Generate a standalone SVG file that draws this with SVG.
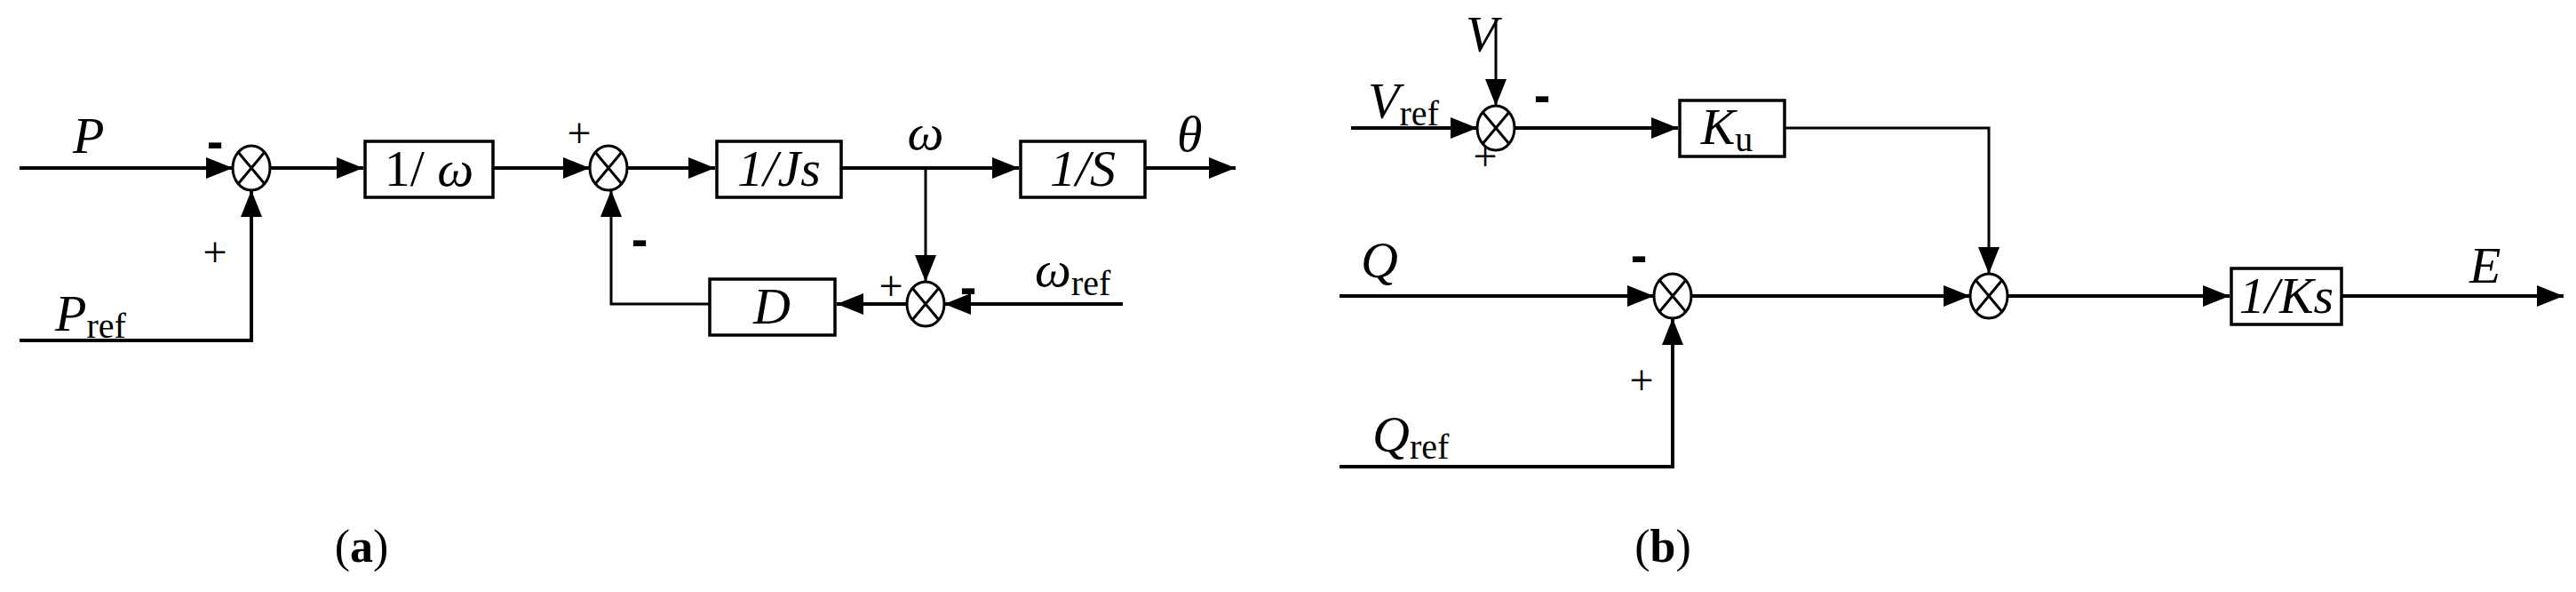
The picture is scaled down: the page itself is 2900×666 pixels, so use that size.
<svg xmlns="http://www.w3.org/2000/svg" width="2900" height="666" viewBox="0 0 2900 666">
<style>
.b{fill:#fff;stroke:#000;stroke-width:3.5}
.c{fill:#fff;stroke:#000;stroke-width:3}
.l{fill:none;stroke:#000;stroke-width:4}
.t{font-family:"Liberation Serif",serif;font-style:italic;font-size:58px;fill:#000}
.s{font-family:"Liberation Serif",serif;font-style:normal;font-size:40px;fill:#000}
.p{font-family:"Liberation Serif",serif;font-size:48px;fill:#000}
.m{font-family:"Liberation Sans",sans-serif;font-weight:bold;font-size:56px;fill:#000}
.cap{font-family:"Liberation Serif",serif;font-size:52px;fill:#000}
</style>
<defs>
<marker id="ah" viewBox="0 0 10 10" refX="10" refY="5" markerWidth="30" markerHeight="24" markerUnits="userSpaceOnUse" orient="auto" preserveAspectRatio="none"><path d="M0,0L10,5L0,10z"/></marker>
<g id="sum"><ellipse rx="21" ry="25" class="c"/><path d="M-15,-18L15,18M15,-18L-15,18" stroke="#000" stroke-width="3"/></g>
</defs>
<g id="connectors" class="l">
<path d="M22,189H262" marker-end="url(#ah)"/>
<path d="M22,383H283V214" marker-end="url(#ah)"/>
<path d="M304,189H409" marker-end="url(#ah)"/>
<path d="M555,189H664" marker-end="url(#ah)"/>
<path d="M706,189H805" marker-end="url(#ah)"/>
<path d="M947,189H1147" marker-end="url(#ah)"/>
<path d="M1289,189H1391" marker-end="url(#ah)"/>
<path d="M1042,189V317" stroke-width="3" marker-end="url(#ah)"/>
<path d="M1264,342H1063" marker-end="url(#ah)"/>
<path d="M1021,342H942" marker-end="url(#ah)"/>
<path d="M799,342H688V214" stroke-width="3" marker-end="url(#ah)"/>
<path d="M1521,144H1663" marker-end="url(#ah)"/>
<path d="M1684,20V119" stroke-width="3" marker-end="url(#ah)"/>
<path d="M1705,144H1889" marker-end="url(#ah)"/>
<path d="M2009,144H2239V308" stroke-width="3" marker-end="url(#ah)"/>
<path d="M1508,333H1862" marker-end="url(#ah)"/>
<path d="M1508,525H1883V358" marker-end="url(#ah)"/>
<path d="M1904,333H2218" marker-end="url(#ah)"/>
<path d="M2260,333H2510" marker-end="url(#ah)"/>
<path d="M2636,333H2886" marker-end="url(#ah)"/>
</g>
<g id="sum1"><use href="#sum" x="283" y="189"/></g>
<g id="sum2"><use href="#sum" x="685" y="189"/></g>
<g id="sum3"><use href="#sum" x="1042" y="342"/></g>
<g id="sum4"><use href="#sum" x="1684" y="144"/></g>
<g id="sum5"><use href="#sum" x="1883" y="333"/></g>
<g id="sum6"><use href="#sum" x="2239" y="333"/></g>
<g id="b1"><rect x="411" y="159" width="144" height="63" class="b"/><text x="483" y="209" class="t" text-anchor="middle"><tspan font-style="normal">1/ </tspan>ω</text></g>
<g id="b2"><rect x="807" y="159" width="140" height="63" class="b"/><text x="877" y="209" class="t" text-anchor="middle">1/Js</text></g>
<g id="b3"><rect x="1149" y="159" width="140" height="63" class="b"/><text x="1219" y="209" class="t" text-anchor="middle">1/S</text></g>
<g id="b4"><rect x="799" y="314" width="141" height="63" class="b"/><text x="869" y="364" class="t" text-anchor="middle">D</text></g>
<g id="b5"><rect x="1891" y="113" width="118" height="63" class="b"/><text x="1944" y="162" class="t" text-anchor="middle">K<tspan class="s" dy="8">u</tspan></text></g>
<g id="b6"><rect x="2512" y="302" width="124" height="63" class="b"/><text x="2574" y="352" class="t" text-anchor="middle">1/Ks</text></g>
<g id="labels">
<text x="82" y="172" class="t">P</text>
<text x="62" y="372" class="t">P<tspan class="s" dy="8">ref</tspan></text>
<text x="1325" y="170" class="t">θ</text>
<text x="1042" y="168" class="t" text-anchor="middle">ω</text>
<text x="1165" y="322" class="t">ω<tspan class="s" dy="10">ref</tspan></text>
<text x="1540" y="133" class="t">V<tspan class="s" dy="8">ref</tspan></text>
<text x="1650" y="58" class="t">V</text>
<text x="1532" y="312" class="t">Q</text>
<text x="1545" y="508" class="t">Q<tspan class="s" dy="8">ref</tspan></text>
<text x="2780" y="318" class="t">E</text>
<text x="242" y="300" class="p" text-anchor="middle">+</text>
<text x="242" y="178" class="m" text-anchor="middle">-</text>
<text x="652" y="166" class="p" text-anchor="middle">+</text>
<text x="720" y="288" class="m" text-anchor="middle">-</text>
<text x="1003" y="338" class="p" text-anchor="middle">+</text>
<text x="1090" y="342" class="m" text-anchor="middle">-</text>
<text x="1736" y="126" class="m" text-anchor="middle">-</text>
<text x="1672" y="192" class="p" text-anchor="middle">+</text>
<text x="1845" y="306" class="m" text-anchor="middle">-</text>
<text x="1848" y="444" class="p" text-anchor="middle">+</text>
<text x="407" y="632" class="cap" text-anchor="middle">(<tspan font-weight="bold">a</tspan>)</text>
<text x="1872" y="632" class="cap" text-anchor="middle">(<tspan font-weight="bold">b</tspan>)</text>
</g>
</svg>
